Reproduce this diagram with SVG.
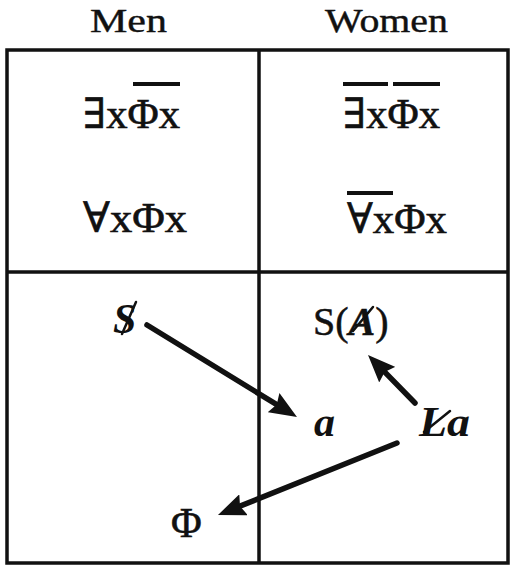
<svg xmlns="http://www.w3.org/2000/svg" width="517" height="574" viewBox="0 0 517 574">
<style>
.hd{font-family:"Liberation Serif","DejaVu Serif",serif;font-size:33px;fill:#111;stroke:#111;stroke-width:0.4}
.f{font-family:"Liberation Serif","DejaVu Serif",serif;font-size:42px;fill:#111;stroke:#111;stroke-width:0.6}
.bi{font-family:"Liberation Serif","DejaVu Serif",serif;font-size:42px;font-weight:bold;font-style:italic;fill:#111}
.rg{font-family:"Liberation Serif","DejaVu Serif",serif;font-size:40px;fill:#111;stroke:#111;stroke-width:0.5}
.bar{stroke:#111;stroke-width:4;fill:none}
.sl{stroke:#111;stroke-width:2.5;fill:none;stroke-linecap:round}
.grid{stroke:#111;stroke-width:3.5;fill:none}
.arr{stroke:#111;stroke-width:5.5;fill:none;stroke-linecap:round;marker-end:url(#ah)}
</style>
<defs>
<marker id="ah" viewBox="0 0 11 9" refX="5" refY="4.5" markerWidth="5" markerHeight="4.1" orient="auto">
<path d="M0,0 L11,4.5 L0,9 L1.5,4.5 z" fill="#111"/>
</marker>
</defs>
<rect width="517" height="574" fill="#fff"/>
<g id="headers">
<text class="hd" x="90" y="32" textLength="77" lengthAdjust="spacingAndGlyphs">Men</text>
<text class="hd" x="325" y="32" textLength="123" lengthAdjust="spacingAndGlyphs">Women</text>
</g>
<g id="grid">
<rect class="grid" x="7" y="50" width="501" height="513"/>
<line class="grid" x1="259" y1="50" x2="259" y2="563"/>
<line class="grid" x1="7" y1="272" x2="508" y2="272"/>
</g>
<g id="men-exists">
<text class="f" x="83" y="128" textLength="97" lengthAdjust="spacingAndGlyphs">∃xΦx</text>
<line class="bar" x1="133" y1="84" x2="180" y2="84"/>
</g>
<g id="women-exists">
<text class="f" x="343" y="128" textLength="97" lengthAdjust="spacingAndGlyphs">∃xΦx</text>
<line class="bar" x1="343" y1="84" x2="388" y2="84"/>
<line class="bar" x1="393" y1="84" x2="440" y2="84"/>
</g>
<g id="men-forall">
<text class="f" x="83" y="232" textLength="104" lengthAdjust="spacingAndGlyphs">∀xΦx</text>
</g>
<g id="women-forall">
<text class="f" x="347" y="233" textLength="100" lengthAdjust="spacingAndGlyphs">∀xΦx</text>
<line class="bar" x1="347" y1="193" x2="393" y2="193"/>
</g>
<g id="barred-S">
<text class="bi" x="113" y="333">S</text>
<line class="sl" x1="136" y1="302" x2="122" y2="334"/>
</g>
<g id="S-barred-A">
<text class="rg" x="313" y="335">S(<tspan font-weight="bold" font-style="italic">A</tspan>)</text>
<line class="sl" x1="373" y1="307" x2="353" y2="331"/>
</g>
<g id="object-a">
<text class="bi" x="314" y="436">a</text>
</g>
<g id="barred-La">
<text class="bi" x="419" y="436" textLength="51" lengthAdjust="spacingAndGlyphs">La</text>
<line class="sl" x1="424" y1="432" x2="450" y2="411"/>
</g>
<g id="phi">
<text class="f" x="171" y="537">Φ</text>
</g>
<g id="connectors">
<line class="arr" x1="147" y1="325" x2="284.2" y2="409.2"/>
<line class="arr" x1="415" y1="403" x2="378.5" y2="365.7"/>
<line class="arr" x1="397" y1="443" x2="231.9" y2="509.4"/>
</g>
</svg>
